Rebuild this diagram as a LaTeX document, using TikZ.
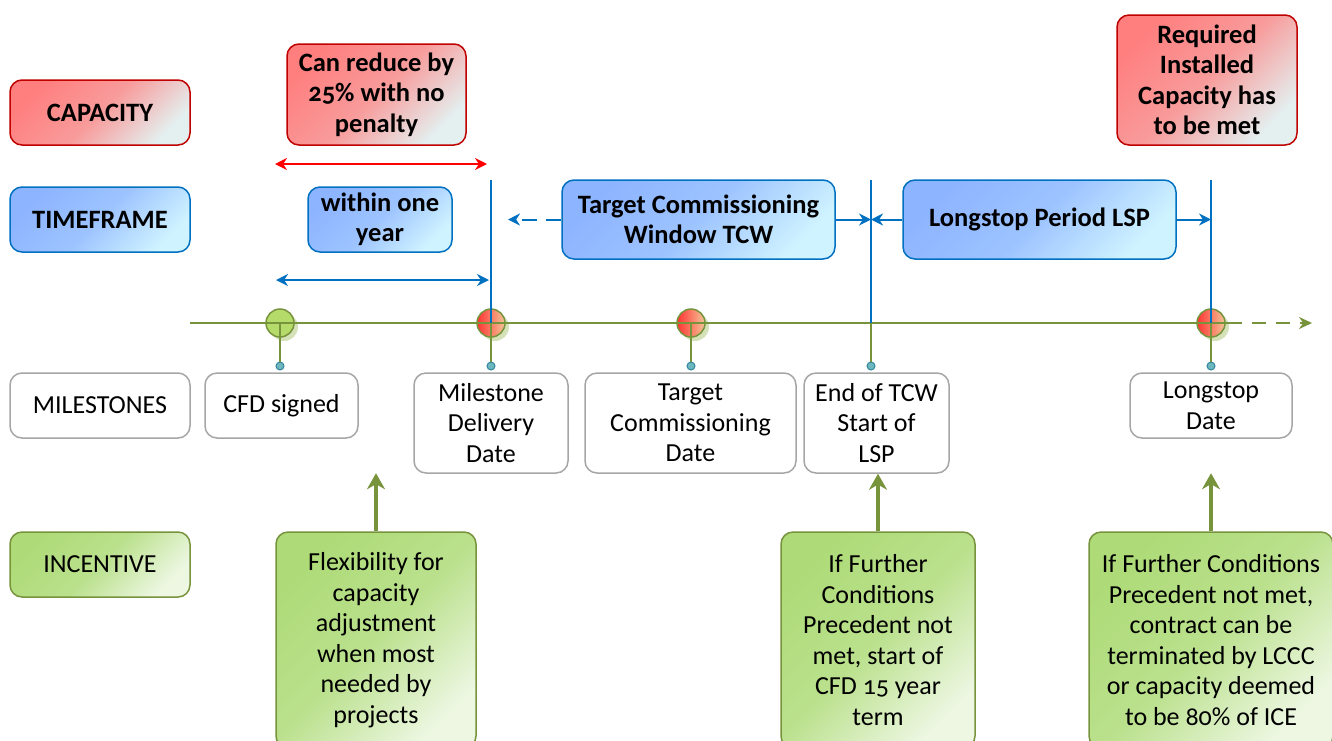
\documentclass[tikz,border=0pt]{standalone}
\usepackage{fontspec}
\setmainfont{Carlito}[Numbers=OldStyle]
\usetikzlibrary{arrows.meta,positioning,shadows}

\definecolor{capfill}{HTML}{FF7F7F}
\definecolor{caplight}{HTML}{E4F0F0}
\definecolor{capline}{HTML}{C00000}
\definecolor{timefill}{HTML}{8DB4FF}
\definecolor{timelight}{HTML}{CFF3FF}
\definecolor{timeblue}{HTML}{0070C0}
\definecolor{incfill}{HTML}{AEDB78}
\definecolor{inclight}{HTML}{EDF7E2}
\definecolor{incline}{HTML}{77933C}
\definecolor{milline}{HTML}{A6A6A6}
\definecolor{knobfill}{HTML}{6FB7BF}
\definecolor{knobline}{HTML}{31859C}
\definecolor{dotgreen}{HTML}{B5DB6A}
\definecolor{dotshadow}{HTML}{C3D69B}

\newcommand\dfont{\fontsize{26}{30.5}\selectfont}
\newcommand\bfont{\fontsize{26.5}{30.5}\selectfont\bfseries}

\begin{document}
\begin{tikzpicture}[x=1pt,y=-1pt,
  box/.style={rounded corners=12pt,inner sep=0pt,align=center,font=\dfont,line width=1.5pt},
  capbox/.style={box,draw=capline,font=\bfont,top color=capfill,bottom color=caplight,
    middle color=capfill!75!caplight,shading angle=45},
  timebox/.style={box,draw=timeblue,font=\bfont,top color=timefill,bottom color=timelight,
    middle color=timefill!75!timelight,shading angle=45},
  milbox/.style={box,draw=milline,fill=white},
  incbox/.style={box,draw=incline,top color=incfill,bottom color=inclight,
    middle color=incfill!80!inclight,shading angle=45},
  dot/.style={circle,minimum size=28pt,inner sep=0pt,draw=incline,line width=1.5pt,
    drop shadow={shadow xshift=4pt,shadow yshift=-4pt,fill=dotshadow,opacity=.7}},
  dotred/.style={dot,left color=red!80,right color=orange!60!brown!45},
  dotgreen/.style={dot,fill=dotgreen},
  knob/.style={circle,minimum size=8pt,inner sep=0pt,draw=knobline,fill=knobfill,line width=1pt},
  stem/.style={incline,line width=1.5pt},
  period/.style={timeblue,line width=2pt,-{Stealth[length=12pt,width=12pt]}},
  marker/.style={timeblue,line width=2.5pt},
  uparrow/.style={incline,line width=4.5pt,-{Stealth[length=16pt,width=18pt]}}]

\useasboundingbox (0,0) rectangle (1332,740);
\clip (0,0) rectangle (1332,740);

% row labels
\node[capbox,minimum width=180pt,minimum height=65pt] (cap) at (100,112.5) {CAPACITY};
\node[timebox,minimum width=180pt,minimum height=65pt] (time) at (100,219.5) {TIMEFRAME};
\node[milbox,minimum width=180pt,minimum height=65pt] (miles) at (100,405.5) {MILESTONES};
\node[incbox,minimum width=180pt,minimum height=65pt] (incent) at (100,564.5) {INCENTIVE};

% capacity and timeframe notes
\node[capbox,minimum width=179pt,minimum height=101pt] (capnote) at (376.5,94.5) {Can reduce by\\25\% with no\\penalty};
\node[capbox,minimum width=180pt,minimum height=130pt] (reqcap) at (1207,80) {Required\\Installed\\Capacity has\\to be met};
\node[timebox,minimum width=144pt,minimum height=65pt] (year) at (380,219.5) {within one\\year};
\node[timebox,minimum width=273pt,minimum height=79pt] (tcw) at (698.5,219.5) {Target Commissioning\\Window TCW};
\node[timebox,minimum width=273pt,minimum height=79pt] (lsp) at (1039.5,219.5) {Longstop Period LSP};

% timeline
\coordinate (tl0) at (190,323);
\coordinate (tl1) at (1228,323);
\coordinate (tl2) at (1312,323);
\coordinate (t4) at (871,323);
\node[dotgreen] (d1) at (280,323) {};
\node[dotred] (d2) at (491,323) {};
\node[dotred] (d3) at (691,323) {};
\node[dotred] (d5) at (1211,323) {};
\draw[incline,line width=2pt] (tl0) -- (tl1);
\draw[incline,line width=2pt,dash pattern=on 14pt off 10pt,-{Stealth[length=13pt,width=12pt]}] (tl1) -- (tl2);

% milestones
\node[milbox,minimum width=153pt,minimum height=65pt] (m1) at (281.5,405.5) {CFD signed};
\node[milbox,minimum width=154pt,minimum height=100pt] (m2) at (491,423) {Milestone\\Delivery\\Date};
\node[milbox,minimum width=211pt,minimum height=100pt] (m3) at (690.5,423) {Target\\Commissioning\\Date};
\node[milbox,minimum width=145pt,minimum height=100pt] (m4) at (876.5,423) {End of TCW\\Start of\\LSP};
\node[milbox,minimum width=162pt,minimum height=65pt] (m5) at (1211,405.5) {Longstop\\Date};
\node[knob] (s1) at (280,366) {};
\node[knob] (s2) at (491,366) {};
\node[knob] (s3) at (691,366) {};
\node[knob] (s4) at (871,366) {};
\node[knob] (s5) at (1211,366) {};
\draw[stem] (d1.center) -- (s1);
\draw[stem] (d2.center) -- (s2);
\draw[stem] (d3.center) -- (s3);
\draw[stem] (t4) -- (s4);
\draw[stem] (d5.center) -- (s5);

% period markers
\coordinate (v2) at (491,180);
\coordinate (v4) at (871,180);
\coordinate (v5) at (1211,180);
\draw[marker] (v2) -- (d2.center);
\draw[marker] (v4) -- (t4);
\draw[marker] (v5) -- (d5.center);

\coordinate (ra) at (275,164);
\coordinate (rb) at (487,164);
\draw[red,line width=2pt,{Stealth[length=12pt,width=12pt]}-{Stealth[length=12pt,width=12pt]}] (ra) -- (rb);
\coordinate (ba) at (276,280);
\coordinate (bb) at (489,280);
\draw[period,{Stealth[length=12pt,width=12pt]}-{Stealth[length=12pt,width=12pt]}] (ba) -- (bb);
\coordinate (tcwl) at (508,219.5);
\draw[period,dash pattern=on 15pt off 9pt] (tcw.west) -- (tcwl);
\draw[period] (tcw.east) -- (v4 |- tcw.east);
\draw[period] (lsp.west) -- (v4 |- lsp.west);
\draw[period] (lsp.east) -- (v5 |- lsp.east);

% incentives
\node[incbox,minimum width=200pt,minimum height=216pt] (i1) at (376,640) {Flexibility for\\capacity\\adjustment\\when most\\needed by\\projects};
\node[incbox,minimum width=194pt,minimum height=216pt] (i2) at (878,640) {If Further\\Conditions\\Precedent not\\met, start of\\CFD 15 year\\term};
\node[incbox,minimum width=244pt,minimum height=216pt] (i3) at (1211,640) {If Further Conditions\\Precedent not met,\\contract can be\\terminated by LCCC\\or capacity deemed\\to be 80\% of ICE};
\draw[uparrow] (i1.north) -- ++(0,-58);
\draw[uparrow] (i2.north) -- (m4.south -| i2.north);
\draw[uparrow] (i3.north) -- ++(0,-58);
\end{tikzpicture}
\end{document}
